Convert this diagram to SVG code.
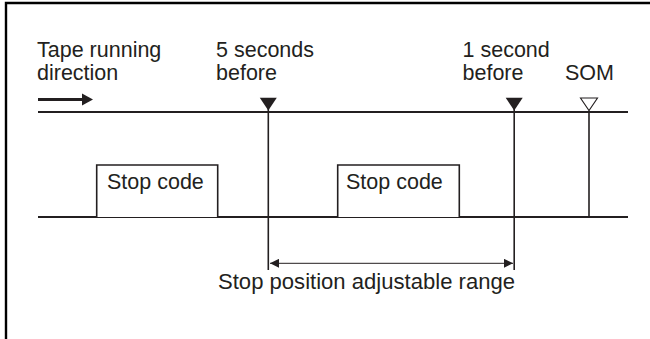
<svg xmlns="http://www.w3.org/2000/svg" width="650" height="339" viewBox="0 0 650 339">
<style>
text{font-family:"Liberation Sans",Arial,sans-serif;font-size:21.5px;fill:#231f20}
.trk{stroke:#231f20;stroke-width:2.2;fill:none}
.v{stroke:#231f20;stroke-width:1.6;fill:none}
.thin{stroke:#231f20;stroke-width:1;fill:none}
.box{stroke:#231f20;stroke-width:1.6;fill:#fff}
</style>
<defs>
<marker id="ah" viewBox="0 0 10 10" refX="10" refY="5" markerWidth="10" markerHeight="9" markerUnits="userSpaceOnUse" orient="auto-start-reverse">
<path d="M0,0 L10,5 L0,10 z" fill="#231f20"/>
</marker>
</defs>
<g id="frame">
<path d="M6,339 V3 H650" stroke="#000" stroke-width="2.4" fill="none"/>
</g>
<g id="direction">
<text x="37" y="56.5">Tape running</text>
<text x="37" y="79.5">direction</text>
<line x1="38" y1="99.5" x2="83" y2="99.5" stroke="#231f20" stroke-width="3"/>
<path d="M82,93.5 L93,99.5 L82,105.5 z" fill="#231f20"/>
</g>
<g id="tracks">
<line class="trk" x1="38" y1="112" x2="628" y2="112"/>
<line class="trk" x1="38" y1="217" x2="628" y2="217"/>
</g>
<g id="stopcode1">
<path class="box" d="M96.7,217 V165 H217.7 V217"/>
<text x="107" y="189">Stop code</text>
</g>
<g id="stopcode2">
<path class="box" d="M337.7,217 V165 H459.3 V217"/>
<text x="346" y="189">Stop code</text>
</g>
<g id="mark5s">
<text x="216" y="56.5">5 seconds</text>
<text x="216" y="79.5">before</text>
<line class="v" x1="268.3" y1="105" x2="268.3" y2="270"/>
<path d="M259.8,97.7 L276.8,97.7 L268.3,110.5 z" fill="#231f20"/>
</g>
<g id="mark1s">
<text x="462.5" y="56.5">1 second</text>
<text x="462.5" y="79.5">before</text>
<line class="v" x1="514.2" y1="105" x2="514.2" y2="270"/>
<path d="M505.7,97.7 L522.7,97.7 L514.2,110.5 z" fill="#231f20"/>
</g>
<g id="som">
<text x="565" y="79.5">SOM</text>
<line class="v" x1="589" y1="110.5" x2="589" y2="217"/>
<path d="M580.5,98 L597.5,98 L589,110.5 z" fill="#fff" stroke="#231f20" stroke-width="1.1"/>
</g>
<g id="connectors">
<line class="thin" x1="270" y1="263.3" x2="513" y2="263.3" marker-start="url(#ah)" marker-end="url(#ah)"/>
</g>
<g id="range-label">
<text x="218" y="288.5" textLength="297" lengthAdjust="spacingAndGlyphs">Stop position adjustable range</text>
</g>
</svg>
